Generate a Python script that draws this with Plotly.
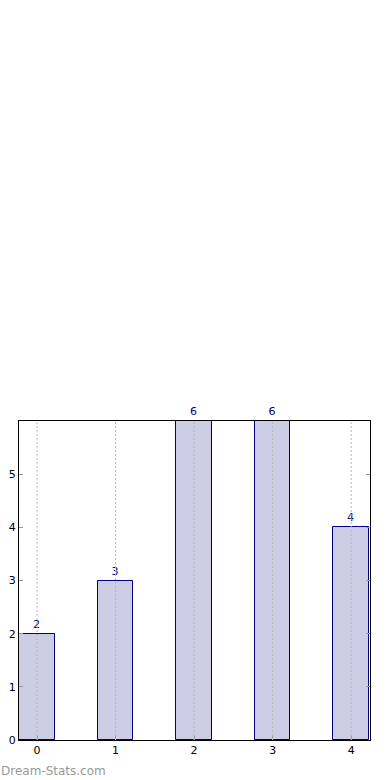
import plotly.graph_objects as go

categories = [0, 1, 2, 3, 4]
values = [2, 3, 6, 6, 4]
y_ticks = [0, 1, 2, 3, 4, 5]

fig = go.Figure()
fig.add_trace(go.Bar(
    x=categories, y=values, width=0.45,
    marker=dict(color="rgb(204,204,228)", line=dict(color="#000080", width=1)),
    text=[str(v) for v in values], textposition="outside",
    textfont=dict(color="#000080", size=11, family="DejaVu Sans"),
    cliponaxis=False,
))
for c in categories:
    fig.add_shape(type="line", xref="x", yref="y", x0=c, x1=c, y0=0, y1=6,
                  line=dict(color="#b8b8b8", width=1, dash="2px,2px"), layer="above")
fig.update_layout(
    width=390, height=780,
    margin=dict(l=19, r=20, t=421, b=40),
    paper_bgcolor="white", plot_bgcolor="white",
    showlegend=False,
    font=dict(family="DejaVu Sans", size=11, color="black"),
    xaxis=dict(range=[-0.23, 4.24], tickvals=categories, ticktext=[str(c) for c in categories],
               showgrid=False, automargin=False,
               layer="above traces", ticks="inside", ticklen=4, tickcolor="#999999",
               showline=True, linecolor="black", linewidth=1, mirror=True, zeroline=False,
               tickfont=dict(size=11)),
    yaxis=dict(range=[0, 6], tickvals=y_ticks, showgrid=False, automargin=False,
               ticks="inside", ticklen=4, tickcolor="#999999",
               showline=True, linecolor="black", linewidth=1, mirror="ticks", zeroline=False,
               layer="above traces", tickfont=dict(size=11)),
    bargap=0,
)
fig.add_annotation(text="Dream-Stats.com", xref="paper", yref="paper",
                   x=0, y=0, xanchor="left", yanchor="top", yshift=-22, xshift=-20,
                   showarrow=False, font=dict(color="#999999", size=12, family="DejaVu Sans"))
fig.write_html("out.html", config={"displayModeBar": False},
               post_script="document.body.style.margin='0';document.body.style.overflow='hidden';")
